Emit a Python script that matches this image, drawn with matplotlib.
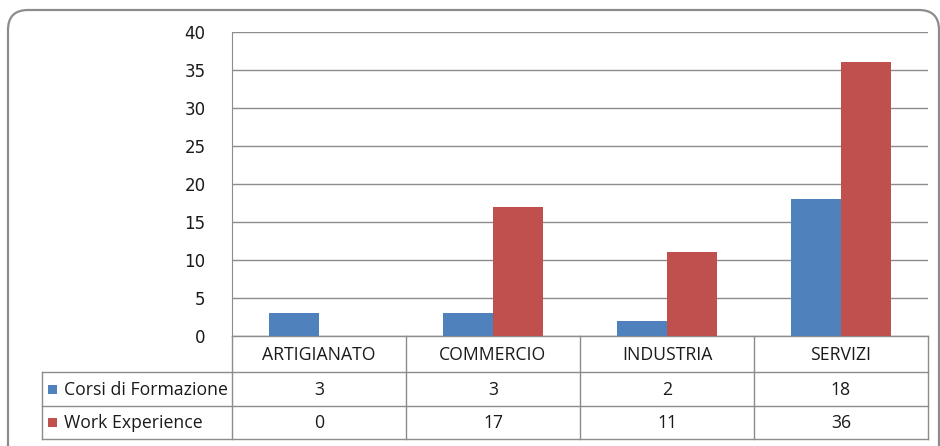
import numpy as np
import matplotlib
matplotlib.use('Agg')
import matplotlib.pyplot as plt
from matplotlib.patches import FancyBboxPatch, Rectangle

categories = ['ARTIGIANATO', 'COMMERCIO', 'INDUSTRIA', 'SERVIZI']
series_names = ['Corsi di Formazione', 'Work Experience']
corsi = [3, 3, 2, 18]
work = [0, 17, 11, 36]
colors = ['#4F81BD', '#C0504D']
y_ticks = [0, 5, 10, 15, 20, 25, 30, 35, 40]

W, H = 940, 446
fig = plt.figure(figsize=(W / 100, H / 100), dpi=100, facecolor='w')

# overlay in pixel coords for border and data table
ov = fig.add_axes([0, 0, 1, 1], zorder=0)
ov.set_xlim(0, W)
ov.set_ylim(H, 0)
ov.axis('off')

ov.add_patch(FancyBboxPatch((8, 10), 931, 460, boxstyle='round,pad=0,rounding_size=20',
                            fc='none', ec='#8c8c8c', lw=1.6, clip_on=False))

# plot area
px0, px1, py0, py1 = 232, 928, 32, 336
ax = fig.add_axes([px0 / W, 1 - py1 / H, (px1 - px0) / W, (py1 - py0) / H], zorder=1)
ax.patch.set_alpha(0)

x = np.arange(len(categories))
bw = 0.287
ax.bar(x - bw / 2, corsi, bw, color=colors[0], zorder=2)
ax.bar(x + bw / 2, work, bw, color=colors[1], zorder=2)

ax.set_xlim(-0.5, len(categories) - 0.5)
ax.set_ylim(0, 40)
ax.set_yticks(y_ticks)
ax.set_xticks([])
ax.yaxis.grid(True, color='#8c8c8c', lw=1)
ax.set_axisbelow(True)
for s in ['top', 'right', 'bottom']:
    ax.spines[s].set_visible(False)
ax.spines['left'].set_color('#8c8c8c')
ax.tick_params(axis='y', length=0, pad=19, labelsize=12, colors='#1a1a1a')
for lab in ax.get_yticklabels():
    lab.set_fontfamily('DejaVu Sans')

# data table
lc = '#8c8c8c'
tbl_left = 42
rows_y = [336, 372, 406, 439]
slot = (px1 - px0) / len(categories)
col_x = [px0 + i * slot for i in range(len(categories) + 1)]
tf = 'Open Sans'
fs = 12.7
tc = '#1a1a1a'

# horizontal lines
ov.plot([px0, px1], [rows_y[0], rows_y[0]], color=lc, lw=1)
for yy in rows_y[1:]:
    ov.plot([tbl_left, px1], [yy, yy], color=lc, lw=1)
# vertical lines
ov.plot([tbl_left, tbl_left], [rows_y[1], rows_y[3]], color=lc, lw=1)
ov.plot([px0, px0], [py1, rows_y[3]], color=lc, lw=1)
for cx in col_x[1:]:
    ov.plot([cx, cx], [rows_y[0], rows_y[3]], color=lc, lw=1)

for i, c in enumerate(categories):
    ov.text((col_x[i] + col_x[i + 1]) / 2, (rows_y[0] + rows_y[1]) / 2 + 1, c,
            ha='center', va='center', fontsize=fs, family=tf, color=tc)

for r, (name, vals) in enumerate(zip(series_names, [corsi, work])):
    yc = (rows_y[r + 1] + rows_y[r + 2]) / 2
    ov.add_patch(Rectangle((48, yc - 4.5), 9, 9, fc=colors[r], ec='none'))
    ov.text(64, yc + 1, name, ha='left', va='center', fontsize=fs, family=tf, color=tc)
    for i, v in enumerate(vals):
        ov.text((col_x[i] + col_x[i + 1]) / 2, yc + 1, str(v),
                ha='center', va='center', fontsize=fs, family=tf, color=tc)

fig.savefig('out.png', dpi=100)
